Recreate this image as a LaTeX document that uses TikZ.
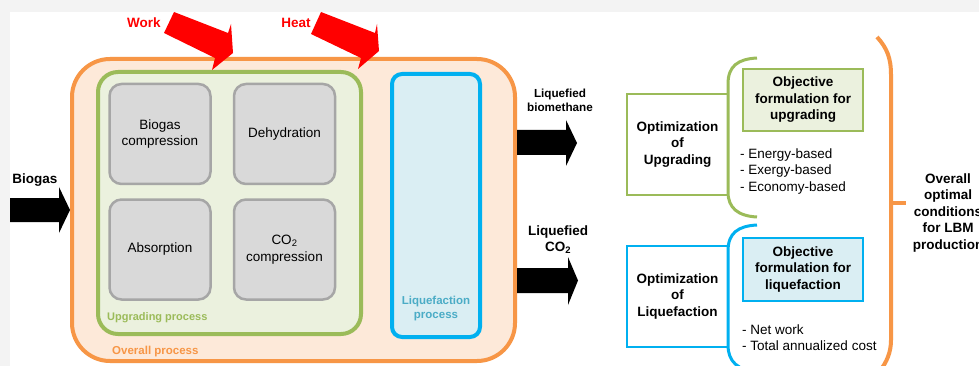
\documentclass[tikz,border=0pt]{standalone}
\usepackage{fontspec}
\setmainfont{Liberation Sans}
\definecolor{orng}{HTML}{F79646}
\definecolor{orngfill}{HTML}{FDE9D9}
\definecolor{grn}{HTML}{9BBB59}
\definecolor{grnfill}{HTML}{EBF1DE}
\definecolor{blu}{HTML}{00B0F0}
\definecolor{blufill}{HTML}{DAEEF3}
\definecolor{blutext}{HTML}{4BACC6}
\definecolor{gryfill}{HTML}{D9D9D9}
\definecolor{grystroke}{HTML}{A6A6A6}
\definecolor{bggray}{HTML}{F3F3F3}
\definecolor{redarr}{HTML}{FF0000}
\begin{document}
\begin{tikzpicture}[x=1pt,y=-1pt,
  txt/.style={font=\fontsize{13.5}{16.5}\selectfont, align=center, inner sep=0pt},
  btxt/.style={font=\fontsize{13.5}{16.5}\selectfont\bfseries, align=center, inner sep=0pt},
  ltxt/.style={font=\fontsize{13.5}{16.5}\selectfont, align=left, inner sep=0pt, anchor=west},
  graybox/.style={draw=grystroke, fill=gryfill, line width=2.5pt, rounded corners=12pt,
    minimum width=101pt, minimum height=100pt, txt},
  optbox/.style={line width=2.5pt, fill=white, minimum width=101pt, minimum height=101pt, btxt},
  objbox/.style={line width=2.5pt, minimum width=120pt, minimum height=62pt, btxt},
  blockarrow/.style={fill=black},
  heatarrow/.style={fill=redarr}
]
\useasboundingbox (0,0) rectangle (979,366);
\fill[bggray] (0,0) rectangle (979,366);
\fill[white] (10,12) rectangle (979,366);

% overall process
\node[draw=orng, fill=orngfill, line width=4pt, rounded corners=38pt,
  minimum width=443pt, minimum height=302pt] (overall) at (293.5,210) {};
% upgrading process
\node[draw=grn, fill=grnfill, line width=4pt, rounded corners=20pt,
  minimum width=263pt, minimum height=262pt] (upg) at (229.5,203) {};
% gray unit boxes
\node[graybox] (bcomp) at (160,134) {Biogas\\compression};
\node[graybox] (dehyd) at (284.5,134) {Dehydration};
\node[graybox] (absorp) at (160,249.5) {Absorption};
\node[graybox] (co2comp) at (284.5,249.5) {CO\textsubscript{2}\\compression};
% liquefaction process
\node[draw=blu, fill=blufill, line width=4pt, rounded corners=10pt,
  minimum width=88pt, minimum height=263pt] (liq) at (436,205.5) {};

\node[font=\fontsize{11}{13}\selectfont\bfseries, text=grn, anchor=west, inner sep=0pt] (upglabel) at (107,318) {Upgrading process};
\node[font=\fontsize{11.5}{13.5}\selectfont\bfseries, text=orng, anchor=west, inner sep=0pt] (ovlabel) at (112,352) {Overall process};
\node[font=\fontsize{11.5}{14}\selectfont\bfseries, text=blutext, align=center, inner sep=0pt] (liqlabel) at (436,309) {Liquefaction\\process};

% biogas inlet
\node[btxt] (biogas) at (35,180) {Biogas};
\fill[blockarrow] (10,198) -- (59,198) -- (59,187) -- (70,210) -- (59,233) -- (59,222) -- (10,222) -- cycle;

% outlets
\node[font=\fontsize{11.7}{14.5}\selectfont\bfseries, align=center, inner sep=0pt] (lbm) at (560,100.5) {Liquefied\\biomethane};
\fill[blockarrow] (517,130) -- (566,130) -- (566,120) -- (577,143) -- (566,166) -- (566,155) -- (517,155) -- cycle;
\node[btxt] (lco2) at (558,239.5) {Liquefied\\CO\textsubscript{2}};
\fill[blockarrow] (517,268) -- (568,268) -- (568,257) -- (578,280.5) -- (568,305) -- (568,293) -- (517,293) -- cycle;

% work and heat
\node[font=\fontsize{13.5}{16}\selectfont\bfseries, text=redarr, inner sep=0pt] (work) at (144,23) {Work};
\node[font=\fontsize{13.5}{16}\selectfont\bfseries, text=redarr, inner sep=0pt] (heat) at (296,23) {Heat};
\fill[heatarrow] (174,12) -- (228,33) -- (231,24) -- (233,53) -- (212,70) -- (215,58) -- (164,33) -- cycle;
\fill[heatarrow] (321,12) -- (375,33) -- (377,24) -- (379,51) -- (358,69) -- (361,58) -- (311,34) -- cycle;

% optimization of upgrading
\node[optbox, draw=grn] (optupg) at (677.5,144.5) {Optimization\\of\\Upgrading};
\draw[grn, line width=3pt] (757,58) .. controls (738,59) and (728,66) .. (728,84) -- (728,192) .. controls (728,208) and (738,216) .. (757,217);
\node[objbox, draw=grn, fill=grnfill] (objupg) at (803,100) {Objective\\formulation for\\upgrading};
\node[ltxt] (listupg) at (740,171.5) {- Energy-based\\- Exergy-based\\- Economy-based};

% optimization of liquefaction
\node[optbox, draw=blu] (optliq) at (677.5,296.5) {Optimization\\of\\Liquefaction};
\draw[blu, line width=3pt] (757,225) .. controls (738,226) and (728,233) .. (728,251) -- (728,345) .. controls (728,362) and (738,370) .. (757,372);
\node[objbox, draw=blu, fill=blufill, minimum height=63pt] (objliq) at (803,269.5) {Objective\\formulation for\\liquefaction};
\node[ltxt] (listliq) at (742,337.5) {- Net work\\- Total annualized cost};

% overall brace
\draw[orng, line width=4pt] (877,37) .. controls (887,48) and (891,58) .. (891,75) -- (891,340) .. controls (891,352) and (887,362) .. (879,372);
\draw[orng, line width=4pt] (891,203) -- (906,203);
\node[btxt] (overallopt) at (948,213) {Overall\\optimal\\conditions\\for LBM\\production};
\end{tikzpicture}
\end{document}
